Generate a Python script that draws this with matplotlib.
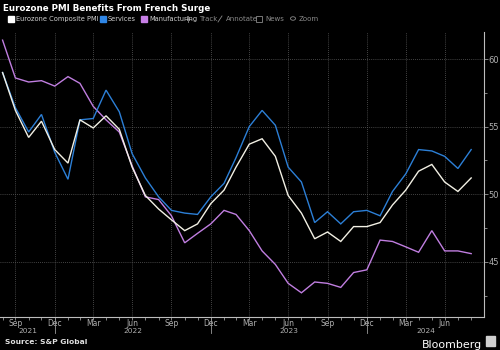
import matplotlib
matplotlib.use("Agg")
import matplotlib.pyplot as plt
import matplotlib.dates as mdates
import matplotlib.transforms as mtransforms
from matplotlib.patches import Rectangle, Circle
from matplotlib.lines import Line2D
import pandas as pd

# Monthly readings, Aug 2021 - Aug 2024 (month-end dates)
months = pd.date_range("2021-08-31", "2024-08-31", freq="ME")

composite = [59.0, 56.2, 54.2, 55.4, 53.3, 52.3, 55.5, 54.9, 55.8, 54.8, 52.0, 49.9,
             48.9, 48.1, 47.3, 47.8, 49.3, 50.3, 52.0, 53.7, 54.1, 52.8, 49.9, 48.6,
             46.7, 47.2, 46.5, 47.6, 47.6, 47.9, 49.2, 50.3, 51.7, 52.2, 50.9, 50.2,
             51.2]
services = [59.0, 56.4, 54.6, 55.9, 53.1, 51.1, 55.5, 55.6, 57.7, 56.1, 53.0, 51.2,
            49.8, 48.8, 48.6, 48.5, 49.8, 50.8, 52.7, 55.0, 56.2, 55.1, 52.0, 50.9,
            47.9, 48.7, 47.8, 48.7, 48.8, 48.4, 50.2, 51.5, 53.3, 53.2, 52.8, 51.9,
            53.3]
manufacturing = [61.4, 58.6, 58.3, 58.4, 58.0, 58.7, 58.2, 56.5, 55.5, 54.6, 52.1, 49.8,
                 49.6, 48.4, 46.4, 47.1, 47.8, 48.8, 48.5, 47.3, 45.8, 44.8, 43.4, 42.7,
                 43.5, 43.4, 43.1, 44.2, 44.4, 46.6, 46.5, 46.1, 45.7, 47.3, 45.8, 45.8,
                 45.6]

series_names = ["Eurozone Composite PMI", "Services", "Manufacturing"]
series_colors = ["#f2f0e4", "#2c7fd6", "#c07ee0"]
legend_colors = ["#ffffff", "#2f86e6", "#c77fe6"]

y_ticks = [45, 50, 55, 60]
y_minor = [42.5, 47.5, 52.5, 57.5]
month_labels = ["Sep", "Dec", "Mar", "Jun"] * 3
year_labels = ["2021", "2022", "2023", "2024"]

BG = "#000000"
GRID = "#5a5a5a"
TICK = "#9a9a9a"

fig = plt.figure(figsize=(5, 3.5), dpi=100, facecolor=BG)
ax = fig.add_axes([0.0, 0.0951, 0.968, 0.8134], facecolor=BG)

for vals, col in zip([manufacturing, services, composite], series_colors[::-1]):
    ax.plot(months, vals, color=col, lw=1.0, solid_joinstyle="miter", zorder=3)

ax.set_xlim(pd.Timestamp("2021-08-25"), pd.Timestamp("2024-09-30"))
ax.set_ylim(40.93, 62.0)

# y axis on the right
ax.yaxis.tick_right()
ax.set_yticks(y_ticks)
ax.set_yticks(y_minor, minor=True)
ax.set_yticklabels([str(t) for t in y_ticks])
ax.tick_params(axis="y", which="major", length=3, width=0.6, color=TICK,
               labelcolor="#b0b0b0", labelsize=6, pad=0.5)
ax.tick_params(axis="y", which="minor", length=2, width=0.6, color=TICK)

# x axis: quarterly labels, monthly minor ticks
qticks = pd.date_range("2021-09-30", "2024-06-30", freq="QE-DEC")
ax.set_xticks(qticks)
ax.set_xticklabels(month_labels)
ax.set_xticks(months, minor=True)
ax.tick_params(axis="x", which="major", length=1.8, width=0.6, color=TICK,
               labelcolor="#b0b0b0", labelsize=5.5, pad=-0.3)
ax.tick_params(axis="x", which="minor", length=1.8, width=0.6, color=TICK)

ax.grid(True, which="major", color=GRID, lw=0.6, ls=(0, (1, 1.5)))

for side in ["top", "left"]:
    ax.spines[side].set_visible(False)
for side in ["bottom", "right"]:
    ax.spines[side].set_color("#bdbdbd")
    ax.spines[side].set_linewidth(0.8)

# year separators and centred year labels
xtrans = mtransforms.blended_transform_factory(ax.transData, ax.transAxes)
x0, x1 = ax.get_xlim()
bounds = [x0] + [mdates.date2num(pd.Timestamp(f"{y}-01-01")) for y in (2022, 2023, 2024)] + [x1]
for b in bounds[1:-1]:
    ax.plot([b, b], [0, -0.058], color=TICK, lw=0.6, transform=xtrans, clip_on=False)
for lab, a, b in zip(year_labels, bounds[:-1], bounds[1:]):
    ax.text((a + b) / 2, -0.040, lab, transform=xtrans, ha="center", va="top",
            color="#b0b0b0", fontsize=5.3)

# title
fig.text(0.006, 0.976, "Eurozone PMI Benefits From French Surge", color="white",
         fontsize=6.3, fontweight="bold", ha="left", va="center")

# legend
lx = [8, 100, 141]
for x, name, col in zip(lx, series_names, legend_colors):
    fig.patches.append(Rectangle((x / 500, 1 - 22 / 350), 6 / 500, 6 / 350,
                                 transform=fig.transFigure, color=col))
    fig.text((x + 8) / 500, 1 - 19 / 350, name, color="#d0d0d0", fontsize=4.8,
             ha="left", va="center")

# chart toolbar: icons as small shapes, labels as text
tb_y = 1 - 19 / 350
fig.lines.append(Line2D([185 / 500, 191 / 500], [tb_y, tb_y], transform=fig.transFigure,
                        color="#8a8a8a", lw=0.6))
fig.lines.append(Line2D([188 / 500, 188 / 500], [tb_y - 3 / 350, tb_y + 3 / 350],
                        transform=fig.transFigure, color="#8a8a8a", lw=0.6))
fig.lines.append(Line2D([218 / 500, 222 / 500], [tb_y - 3 / 350, tb_y + 3 / 350],
                        transform=fig.transFigure, color="#8a8a8a", lw=0.6))
fig.patches.append(Rectangle((256 / 500, tb_y - 3 / 350), 6 / 500, 6 / 350,
                             transform=fig.transFigure, fill=False, ec="#8a8a8a", lw=0.6))
fig.patches.append(Circle((293 / 500, tb_y + 0.5 / 350), 2.5 / 500,
                          transform=fig.transFigure, fill=False, ec="#8a8a8a", lw=0.6))
for x, lab in zip([199, 226, 265, 299], ["Track", "Annotate", "News", "Zoom"]):
    fig.text(x / 500, tb_y, lab, color="#8a8a8a", fontsize=5,
             ha="left", va="center")

# footer
fig.text(5 / 500, 1 - 342 / 350, "Source: S&P Global", color="#e0e0e0",
         fontsize=5.4, fontweight="bold", ha="left", va="center")
fig.text(482 / 500, 0.0 / 350, "Bloomberg", color="white",
         fontsize=7.9, ha="right", va="bottom")
fig.patches.append(Rectangle((486 / 500, 1 - 346 / 350), 9 / 500, 10 / 350,
                             transform=fig.transFigure, color="#cfcfcf"))

fig.savefig("out.png", dpi=100, facecolor=BG)
